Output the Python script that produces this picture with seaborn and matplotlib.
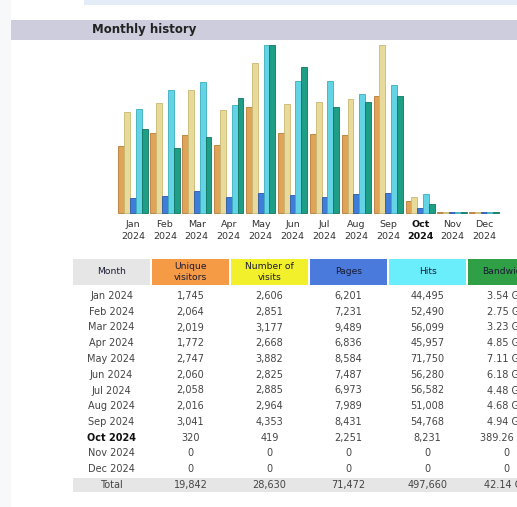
import numpy as np
import pandas as pd
import matplotlib
matplotlib.use("Agg")
import matplotlib.pyplot as plt
from matplotlib.patches import Rectangle
import seaborn as sns

# ---------------- data ----------------
months = ["Jan", "Feb", "Mar", "Apr", "May", "Jun", "Jul", "Aug", "Sep", "Oct", "Nov", "Dec"]
year = "2024"
unique_visitors = [1745, 2064, 2019, 1772, 2747, 2060, 2058, 2016, 3041, 320, 0, 0]
visits = [2606, 2851, 3177, 2668, 3882, 2825, 2885, 2964, 4353, 419, 0, 0]
pages = [6201, 7231, 9489, 6836, 8584, 7487, 6973, 7989, 8431, 2251, 0, 0]
hits = [44495, 52490, 56099, 45957, 71750, 56280, 56582, 51008, 54768, 8231, 0, 0]
bandwidth_gb = [3.54, 2.75, 3.23, 4.85, 7.11, 6.18, 4.48, 4.68, 4.94, 0.38926, 0, 0]
bandwidth_labels = ["3.54 GB", "2.75 GB", "3.23 GB", "4.85 GB", "7.11 GB", "6.18 GB",
                    "4.48 GB", "4.68 GB", "4.94 GB", "389.26 MB", "0", "0"]
totals = ["Total", "19,842", "28,630", "71,472", "497,660", "42.14 GB"]
current_month = "Oct"

metrics = ["Unique visitors", "Number of visits", "Pages", "Hits", "Bandwidth"]
header_labels = ["Month", "Unique\nvisitors", "Number of\nvisits", "Pages", "Hits", "Bandwidth"]

# ---------------- styles ----------------
bar_fill = ["#E0A458", "#E8DA9A", "#3F7DD8", "#62D4E4", "#1E9E84"]
bar_edge = ["#B57B33", "#C9B872", "#2A5AA8", "#3AAEC0", "#127560"]
head_fill = ["#E6E6E6", "#F59A45", "#F2F02A", "#4A7BDC", "#6AEEFC", "#2FA045"]

sns.set_style("white")
plt.rcParams["font.family"] = ["DejaVu Sans"]

W, H = 517, 507
fig = plt.figure(figsize=(W / 100, H / 100), dpi=100)
fig.patch.set_facecolor("white")

def frect(x, y, w, h, color):
    fig.add_artist(Rectangle((x / W, 1 - (y + h) / H), w / W, h / H,
                             transform=fig.transFigure, facecolor=color,
                             edgecolor="none", zorder=0))

# page decorations
frect(0, 0, 11, H, "#F6F8FA")
frect(84, 0, W - 84, 5, "#E4ECF7")
frect(11, 20, W - 11, 20, "#CDCDDD")
fig.text(92 / W, 1 - 30 / H, "Monthly history", fontsize=8.5, fontweight="bold",
         color="#222222", ha="left", va="center")

# ---------------- bar chart ----------------
vmax = max(max(unique_visitors), max(visits))
hmax = max(max(pages), max(hits))
kmax = max(bandwidth_gb)
scaled = {
    "Unique visitors": np.array(unique_visitors) / vmax,
    "Number of visits": np.array(visits) / vmax,
    "Pages": np.array(pages) / hmax,
    "Hits": np.array(hits) / hmax,
    "Bandwidth": np.array(bandwidth_gb) / kmax,
}
rows = []
for m in metrics:
    for i, mo in enumerate(months):
        rows.append({"month": mo, "metric": m, "h": max(scaled[m][i], 0.006)})
df = pd.DataFrame(rows)

ax = fig.add_axes([117 / W, 1 - 213 / H, 383 / W, 168 / H])
sns.barplot(data=df, x="month", y="h", hue="metric", hue_order=metrics,
            order=months, palette=bar_fill, width=0.92, gap=0, saturation=1,
            legend=False, ax=ax)
for cont, ec in zip(ax.containers, bar_edge):
    for b in cont:
        b.set_edgecolor(ec)
        b.set_linewidth(0.6)
        b.set_clip_on(False)
ax.set_xlim(-0.5, 11.5)
ax.set_ylim(0, 1)
for s in ax.spines.values():
    s.set_visible(False)
ax.set_yticks([])
ax.set_xlabel("")
ax.set_ylabel("")
ax.set_xticks(range(len(months)))
ax.set_xticklabels([f"{m}\n{year}" for m in months], fontsize=6.8,
                   color="#333333", linespacing=1.4)
ax.tick_params(axis="x", length=0, pad=5)
for lbl, m in zip(ax.get_xticklabels(), months):
    if m == current_month:
        lbl.set_fontweight("bold")
        lbl.set_color("#111111")
ax.set_facecolor("none")

# ---------------- table ----------------
tax = fig.add_axes([73 / W, 1 - 493 / H, 480 / W, 234 / H])
tax.set_xlim(0, 480)
tax.set_ylim(234, 0)
tax.axis("off")
colw, step = 77, 79
for c, (lab, col) in enumerate(zip(header_labels, head_fill)):
    tax.add_patch(Rectangle((c * step, 0), colw, 26, facecolor=col, edgecolor="none"))
    tax.text(c * step + colw / 2, 13, lab, ha="center", va="center", fontsize=6.6,
             color="#1a1a33", linespacing=1.15)

columns = [
    [f"{m} {year}" for m in months],
    [f"{v:,}" for v in unique_visitors],
    [f"{v:,}" for v in visits],
    [f"{v:,}" for v in pages],
    [f"{v:,}" for v in hits],
    bandwidth_labels,
]
row_h = 15.75
for i, m in enumerate(months):
    y = 37 + row_h * i
    bold = m == current_month
    for c, colvals in enumerate(columns):
        first_bold = bold and c == 0
        tax.text(c * step + colw / 2, y, colvals[i], ha="center", va="center",
                 fontsize=7, color="#111111" if first_bold else "#444444",
                 fontweight="bold" if first_bold else "normal")

ty = 37 + row_h * 12
for c, t in enumerate(totals):
    tax.add_patch(Rectangle((c * step - 1, ty - 7), step, 14, facecolor="#E6E6E6",
                            edgecolor="none"))
    tax.text(c * step + colw / 2, ty, t, ha="center", va="center", fontsize=7,
             color="#444444")

fig.savefig("out.png", dpi=100)
